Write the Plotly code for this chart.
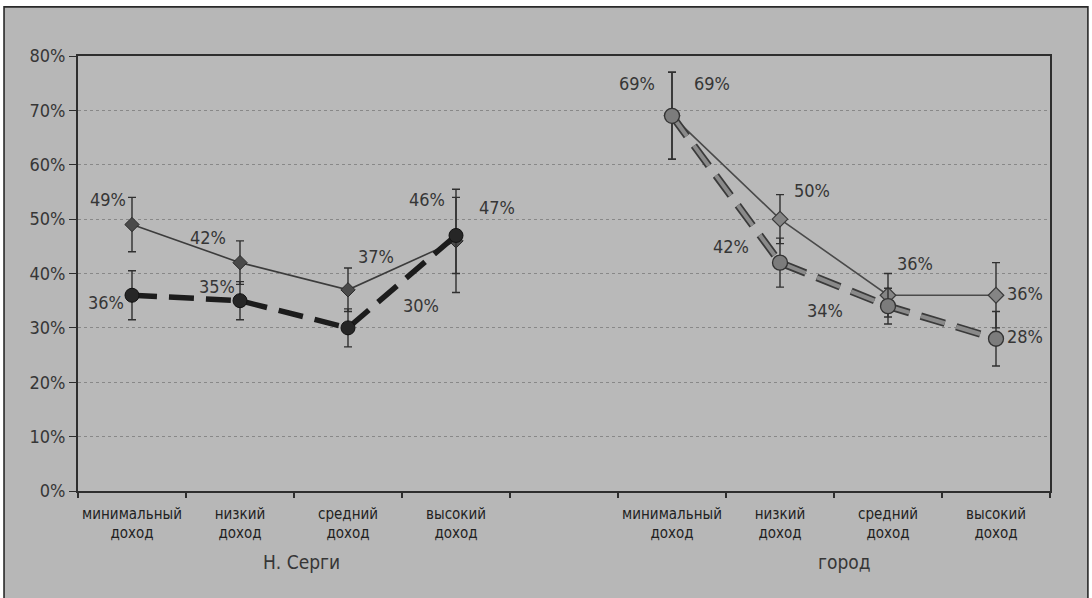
import plotly.graph_objects as go

# categories and groups
categories = ["минимальный<br>доход", "низкий<br>доход", "средний<br>доход", "высокий<br>доход"]
groups = ["Н. Серги", "город"]
y_ticks = [0, 10, 20, 30, 40, 50, 60, 70, 80]

# Н. Серги
serg_solid = [49, 42, 37, 46]
serg_solid_err = [5, 4, 4, 9.5]
serg_dash = [36, 35, 30, 47]
serg_dash_err = [4.5, 3.5, 3.5, 7]

# город
city_solid = [69, 50, 36, 36]
city_solid_err = [8, 4.5, 4, 6]
city_dash = [69, 42, 34, 28]
city_dash_err = [8, 4.5, 3.3, 5]

# label offsets in pixels (dx, dy) for each point
off_serg_solid = [(-24, 25), (-32, 25), (28, 33), (-29, 41)]
off_serg_dash = [(-26, -7), (-23, 14), (73, 22), (41, 28)]
off_city_solid = [(40, 32), (32, 29), (27, 32), (29, 2)]
off_city_dash = [(-35, 32), (-49, 16), (-63, -4), (29, 2)]

FONT = "DejaVu Sans Condensed, Liberation Sans Narrow, Arial Narrow, Liberation Sans, sans-serif"
TXT = "#363636"
BG = "#b7b7b7"

n = len(categories)
x_serg = [i + 0.5 for i in range(n)]
x_city = [i + n + 1.5 for i in range(n)]

fig = go.Figure()


def err(arr, color="#303030"):
    return dict(type="data", array=arr, visible=True, color=color, thickness=1.4, width=4)


DASH = "25px,12px"

# Н. Серги — solid series
fig.add_trace(go.Scatter(
    x=x_serg, y=serg_solid, mode="lines+markers",
    line=dict(color="#3c3c3c", width=1.6),
    marker=dict(symbol="diamond", size=11, color="#4a4a4a", line=dict(color="#2a2a2a", width=1)),
    error_y=err(serg_solid_err)))
# Н. Серги — dashed series
fig.add_trace(go.Scatter(
    x=x_serg, y=serg_dash, mode="lines+markers",
    line=dict(color="#1c1c1c", width=5.5, dash=DASH),
    marker=dict(symbol="circle", size=14, color="#262626", line=dict(color="#111", width=1)),
    error_y=err(serg_dash_err)))

# город — solid series
fig.add_trace(go.Scatter(
    x=x_city, y=city_solid, mode="lines+markers",
    line=dict(color="#4a4a4a", width=1.6),
    marker=dict(symbol="diamond", size=12, color="#858585", line=dict(color="#3a3a3a", width=1.2)),
    error_y=err(city_solid_err)))
# город — dashed series (outlined grey dashes)
fig.add_trace(go.Scatter(
    x=x_city, y=city_dash, mode="lines",
    line=dict(color="#3a3a3a", width=7.5, dash=DASH), hoverinfo="skip"))
fig.add_trace(go.Scatter(
    x=x_city, y=city_dash, mode="lines+markers",
    line=dict(color="#8a8a8a", width=4, dash=DASH),
    marker=dict(symbol="circle", size=15, color="#7c7c7c", line=dict(color="#333", width=1.3)),
    error_y=err(city_dash_err)))

# value labels
ann = []
for xs, vals, offs in [(x_serg, serg_solid, off_serg_solid), (x_serg, serg_dash, off_serg_dash),
                       (x_city, city_solid, off_city_solid), (x_city, city_dash, off_city_dash)]:
    for xv, v, (dx, dy) in zip(xs, vals, offs):
        ann.append(dict(x=xv, y=v, xref="x", yref="y", text=f"{v}%", showarrow=False,
                        xshift=dx, yshift=dy, font=dict(family=FONT, size=18, color=TXT)))

# group titles under the category labels
group_pos = [2.07, 7.1]
for g, gx in zip(groups, group_pos):
    ann.append(dict(x=gx, y=-0.163, xref="x", yref="paper", text=g, showarrow=False,
                    yanchor="middle", font=dict(family=FONT, size=19, color=TXT)))

# outer frame of the figure
shapes = [
    dict(type="rect", xref="paper", yref="paper", x0=-0.09, x1=1.06, y0=1.115, y1=1.2,
         fillcolor="white", line=dict(width=0), layer="below"),
    dict(type="rect", xref="paper", yref="paper", x0=-0.1, x1=-0.0762, y0=-0.3, y1=1.2,
         fillcolor="white", line=dict(width=0), layer="below"),
    dict(type="rect", xref="paper", yref="paper", x0=1.0391, x1=1.06, y0=-0.3, y1=1.2,
         fillcolor="white", line=dict(width=0), layer="below"),
    dict(type="rect", xref="paper", yref="paper", x0=-0.0761, x1=1.039, y0=-0.3, y1=1.113,
         fillcolor="rgba(0,0,0,0)", line=dict(color="#2a2a2a", width=1.6)),
]

fig.update_layout(
    width=1092, height=598,
    margin=dict(l=78, r=42, t=56, b=107),
    paper_bgcolor=BG, plot_bgcolor="#b9b9b9",
    showlegend=False,
    font=dict(family=FONT, color=TXT),
    annotations=ann, shapes=shapes,
    xaxis=dict(
        range=[0, 2 * n + 1], tickmode="array",
        tickvals=x_serg + x_city, ticktext=categories + categories,
        ticks="", showgrid=False, zeroline=False,
        showline=True, linecolor="#2e2e2e", linewidth=1.8, mirror=True,
        tickfont=dict(family=FONT, size=15, color="#222222"),
        ticklabelstandoff=8,
        minor=dict(tickmode="linear", tick0=0, dtick=1, ticks="outside", ticklen=5,
                   tickcolor="#2e2e2e", tickwidth=1.5, showgrid=False),
    ),
    yaxis=dict(
        range=[0, 80], tickmode="array", tickvals=y_ticks,
        ticktext=[f"{v}%" for v in y_ticks],
        ticks="outside", ticklen=7, tickcolor="#2e2e2e", tickwidth=1.3,
        showgrid=True, gridcolor="#888888", gridwidth=1, griddash="dot",
        zeroline=False, showline=True, linecolor="#2e2e2e", linewidth=1.8, mirror=True,
        tickfont=dict(family=FONT, size=18, color=TXT),
    ),
)

fig.write_html("out.html")
